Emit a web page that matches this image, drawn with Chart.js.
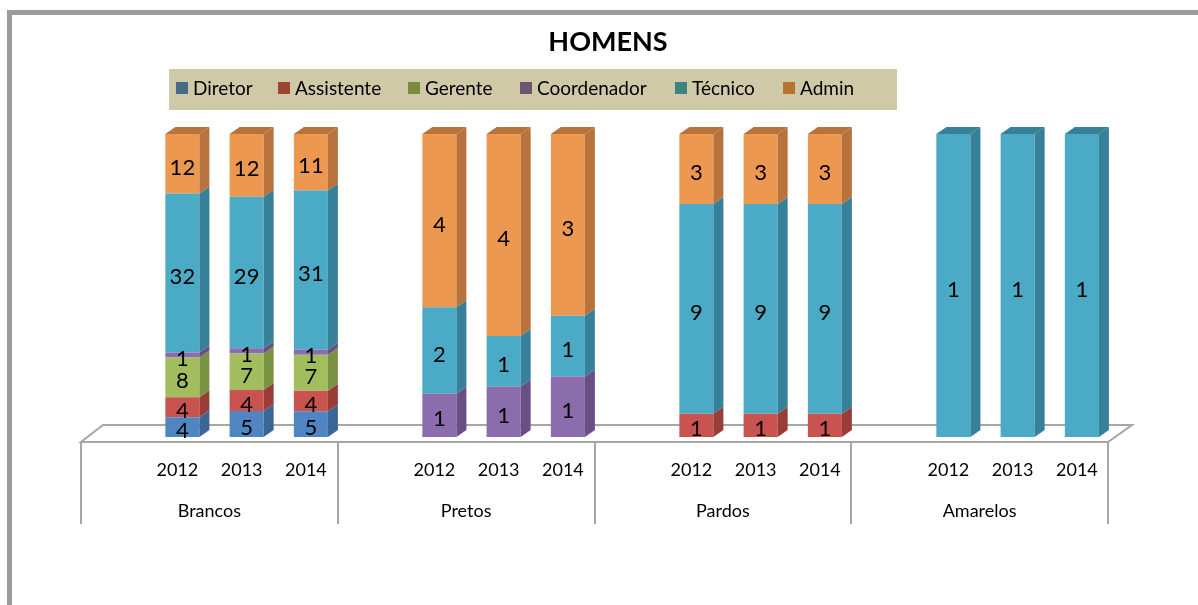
<!DOCTYPE html>
<html lang="pt">
  <head>
    <meta http-equiv="content-type" content="text/html; charset=UTF-8">
    <title>HOMENS</title>
    <style>
      body { margin: 0; background: #fff; }
      #chart { display: block; }
    </style>
  </head>
  <body>
    <canvas id="chart" width="1198" height="605"></canvas>
  </body>
  <script src="https://cdn.jsdelivr.net/npm/chart.js"></script>
  <script>
    /* Data: one value per bar (Brancos, Pretos, Pardos, Amarelos x 2012-2014) */
    const groups = ['Brancos', 'Pretos', 'Pardos', 'Amarelos'];
    const years = ['2012', '2013', '2014'];
    const diretor     = [4, 5, 5,   0, 0, 0,   0, 0, 0,   0, 0, 0];
    const assistente  = [4, 4, 4,   0, 0, 0,   1, 1, 1,   0, 0, 0];
    const gerente     = [8, 7, 7,   0, 0, 0,   0, 0, 0,   0, 0, 0];
    const coordenador = [1, 1, 1,   1, 1, 1,   0, 0, 0,   0, 0, 0];
    const tecnico     = [32, 29, 31, 2, 1, 1,  9, 9, 9,   1, 1, 1];
    const admin       = [12, 12, 11, 4, 4, 3,  3, 3, 3,   0, 0, 0];

    const seriesNames = ['Diretor', 'Assistente', 'Gerente', 'Coordenador', 'Técnico', 'Admin'];
    const seriesValues = [diretor, assistente, gerente, coordenador, tecnico, admin];
    const frontColors = ['#4F86C2', '#C9534F', '#A1BD5E', '#8B6CAC', '#4BAAC6', '#EC9850'];
    const sideColors  = ['#3A6696', '#9A3D39', '#7A9343', '#684F85', '#36809A', '#B8733C'];
    const legendColors = ['#446C86', '#9B4434', '#7A8B3B', '#6A5571', '#3E837F', '#B6742F'];

    /* One blank slot before each group, then the three years */
    const labels = [];
    const slotBar = []; // bar index for each slot, -1 for blank
    groups.forEach((g, gi) => {
      labels.push('');
      slotBar.push(-1);
      years.forEach((y, yi) => {
        labels.push(y);
        slotBar.push(gi * years.length + yi);
      });
    });

    const totals = diretor.map((v, i) => seriesValues.reduce((s, arr) => s + arr[i], 0));

    const datasets = seriesNames.map((name, si) => ({
      label: name,
      raw: seriesValues[si],
      data: slotBar.map(b => (b < 0 || seriesValues[si][b] === 0) ? null : seriesValues[si][b] / totals[b] * 100),
      backgroundColor: frontColors[si],
      sideColor: sideColors[si],
      borderWidth: 0,
      barPercentage: 0.53,
      categoryPercentage: 1
    }));

    const FONT = 'Lato, "Open Sans", sans-serif';
    const DX = 10, DY = -7;   // bar depth
    const FDX = 22, FDY = -17; // floor depth

    const decor = {
      id: 'decor',
      beforeDraw(chart) {
        const ctx = chart.ctx;
        ctx.save();
        ctx.strokeStyle = '#9C9C9C';
        ctx.lineWidth = 5;
        ctx.strokeRect(9.5, 12.5, 1220, 620);
        ctx.restore();
      },
      beforeDatasetsDraw(chart) {
        const ctx = chart.ctx;
        const xs = chart.scales.x, ys = chart.scales.y;
        const fl = xs.left - 5, fr = xs.right - 6, fy = ys.bottom + 5;
        ctx.save();
        // floor
        ctx.beginPath();
        ctx.moveTo(fl, fy);
        ctx.lineTo(fl + FDX, fy + FDY);
        ctx.lineTo(fr + FDX + 2, fy + FDY);
        ctx.lineTo(fr, fy);
        ctx.closePath();
        ctx.fillStyle = '#fff';
        ctx.fill();
        ctx.strokeStyle = '#A6A6A6';
        ctx.lineWidth = 2;
        ctx.stroke();
        // group separators
        for (let g = 0; g <= groups.length; g++) {
          const x = Math.round(fl + (fr - fl) * g / groups.length);
          ctx.beginPath();
          ctx.moveTo(x, fy);
          ctx.lineTo(x, fy + 82);
          ctx.stroke();
        }
        // axis labels
        ctx.fillStyle = '#000';
        ctx.font = '18px ' + FONT;
        ctx.textAlign = 'center';
        ctx.textBaseline = 'middle';
        labels.forEach((l, i) => {
          if (l) ctx.fillText(l, xs.getPixelForValue(i) - 5, fy + 28);
        });
        groups.forEach((g, gi) => {
          const x0 = fl + (fr - fl) * gi / groups.length;
          const x1 = fl + (fr - fl) * (gi + 1) / groups.length;
          ctx.fillText(g, (x0 + x1) / 2, fy + 69);
        });
        ctx.restore();
      },
      afterDatasetsDraw(chart) {
        const ctx = chart.ctx;
        ctx.save();
        // side and top faces
        const topIdx = {};
        chart.data.datasets.forEach((ds, di) => {
          ds.data.forEach((v, i) => {
            if (v != null) topIdx[i] = di;
          });
        });
        chart.data.datasets.forEach((ds, di) => {
          chart.getDatasetMeta(di).data.forEach((el, i) => {
            if (ds.data[i] == null) return;
            const p = el.getProps(['x', 'y', 'base', 'width'], true);
            const l = p.x - p.width / 2, r = p.x + p.width / 2;
            ctx.fillStyle = ds.sideColor;
            ctx.beginPath();
            ctx.moveTo(r, p.y);
            ctx.lineTo(r + DX, p.y + DY);
            ctx.lineTo(r + DX, p.base + DY);
            ctx.lineTo(r, p.base);
            ctx.closePath();
            ctx.fill();
            if (topIdx[i] === di) {
              ctx.beginPath();
              ctx.moveTo(l, p.y);
              ctx.lineTo(l + DX, p.y + DY);
              ctx.lineTo(r + DX, p.y + DY);
              ctx.lineTo(r, p.y);
              ctx.closePath();
              ctx.fill();
            }
          });
        });
        // value labels
        ctx.fillStyle = '#000';
        ctx.font = '22px ' + FONT;
        ctx.textAlign = 'center';
        ctx.textBaseline = 'middle';
        chart.data.datasets.forEach((ds, di) => {
          chart.getDatasetMeta(di).data.forEach((el, i) => {
            if (ds.data[i] == null) return;
            const p = el.getProps(['x', 'y', 'base'], true);
            ctx.fillText(String(ds.raw[slotBar[i]]), p.x, (p.y + p.base) / 2 + 4);
          });
        });
        ctx.restore();
      },
      afterDraw(chart) {
        const ctx = chart.ctx;
        ctx.save();
        ctx.fillStyle = '#000';
        ctx.font = 'bold 27px ' + FONT;
        ctx.textAlign = 'center';
        ctx.textBaseline = 'middle';
        ctx.fillText('HOMENS', 608, 42);
        // legend
        ctx.fillStyle = '#CFC9A8';
        ctx.fillRect(169, 69, 728, 41);
        const legendX = [176, 278, 408, 520, 675, 783];
        ctx.font = '19px ' + FONT;
        ctx.textAlign = 'left';
        chart.data.datasets.forEach((ds, di) => {
          ctx.fillStyle = legendColors[di];
          ctx.fillRect(legendX[di], 82, 12, 12);
          ctx.fillStyle = '#000';
          ctx.fillText(ds.label, legendX[di] + 17, 89);
        });
        ctx.restore();
      }
    };

    new Chart(document.getElementById('chart'), {
      type: 'bar',
      data: { labels: labels, datasets: datasets },
      options: {
        responsive: false,
        animation: false,
        layout: { padding: { left: 86, right: 84, top: 134, bottom: 168 } },
        scales: {
          x: { stacked: true, display: false },
          y: { stacked: true, display: false, min: 0, max: 100 }
        },
        plugins: {
          legend: { display: false },
          tooltip: { enabled: false },
          title: { display: false }
        }
      },
      plugins: [decor]
    });
  </script>
</html>
